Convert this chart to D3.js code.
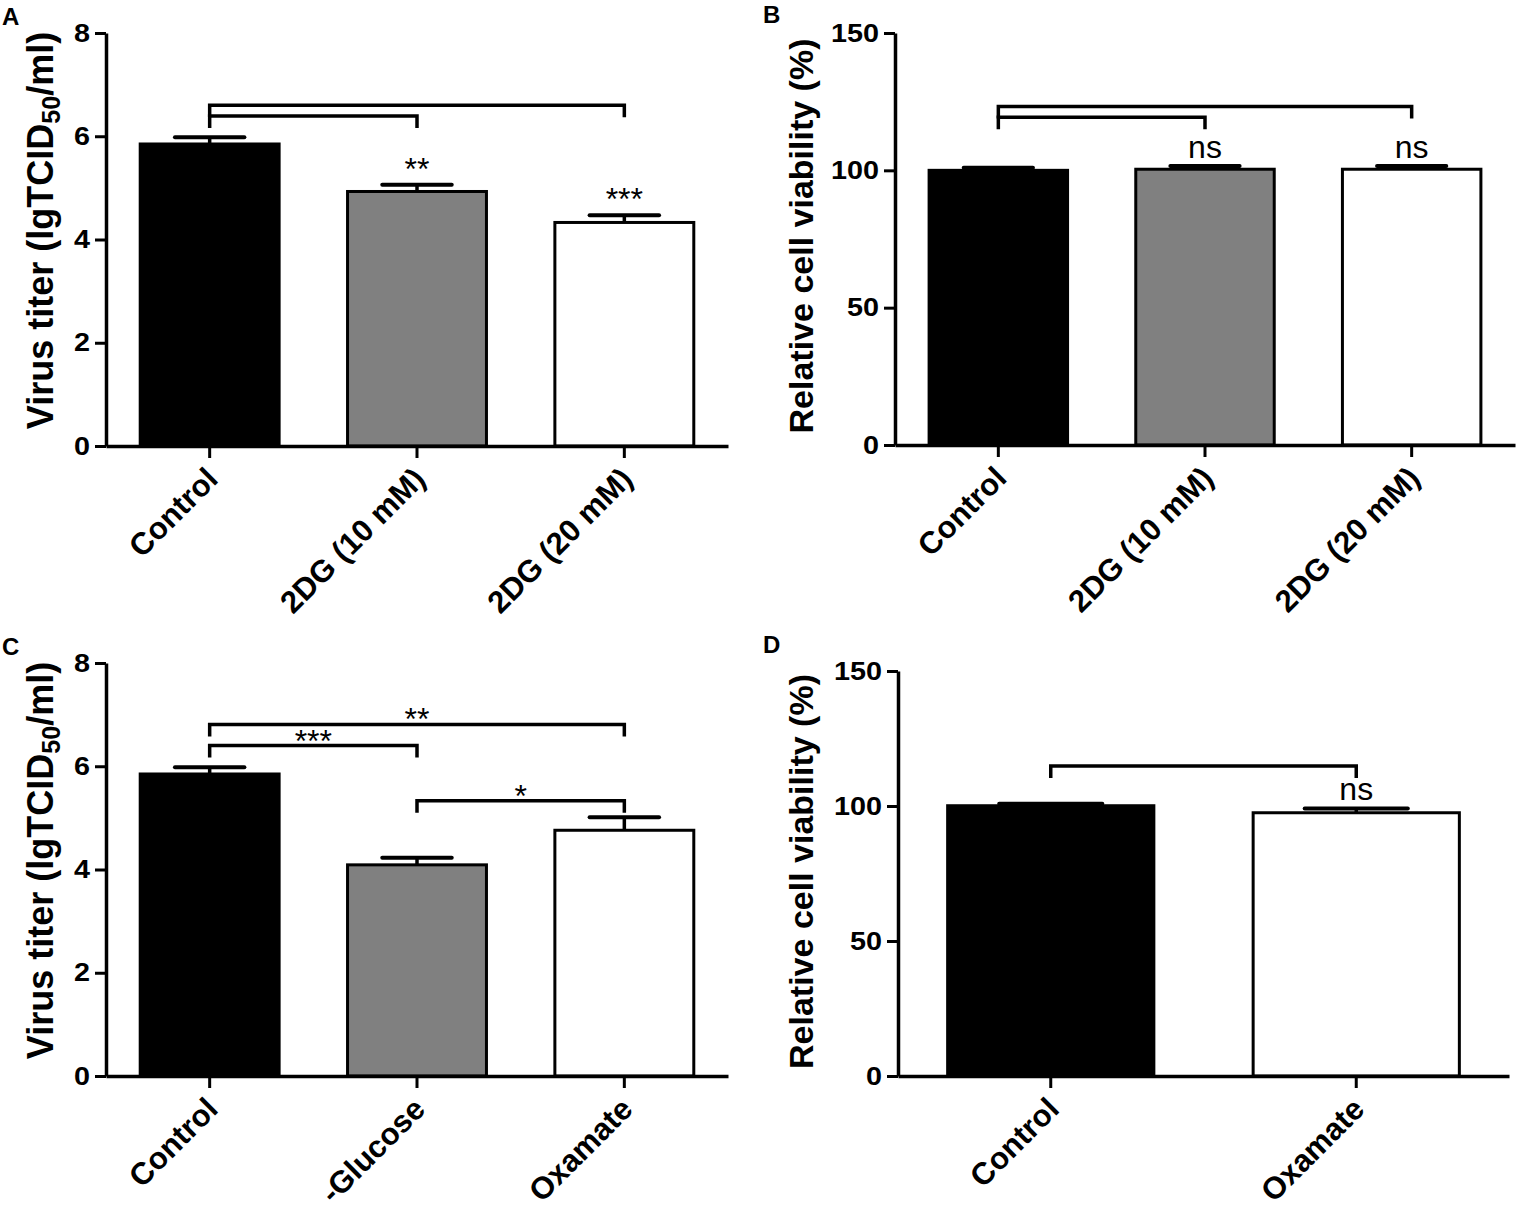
<!DOCTYPE html>
<html><head><meta charset="utf-8">
<script src="https://cdn.jsdelivr.net/npm/d3@7"></script>
<style>body{margin:0;background:#fff}</style>
</head><body><svg id="chart" width="1527" height="1215"></svg>
<script>
// ---------- data ----------
const catsA = ["Control", "2DG (10 mM)", "2DG (20 mM)"];
const meanA = [5.85, 4.93, 4.33];
const semA  = [0.13, 0.13, 0.14];
const markA = ["", "**", "***"];
const brkA  = [[0, 2, 6.6, ""], [0, 1, 6.39, ""]];
const ticksA = [0, 2, 4, 6, 8];

const catsB = ["Control", "2DG (10 mM)", "2DG (20 mM)"];
const meanB = [100, 100.4, 100.4];
const semB  = [0.9, 1.2, 1.2];
const markB = ["", "ns", "ns"];
const brkB  = [[0, 2, 123.2, ""], [0, 1, 119.3, ""]];
const ticksB = [0, 50, 100, 150];

const catsC = ["Control", "-Glucose", "Oxamate"];
const meanC = [5.85, 4.09, 4.76];
const semC  = [0.13, 0.14, 0.25];
const markC = ["", "", ""];
const brkC  = [[0, 2, 6.81, "**"], [0, 1, 6.4, "***"], [1, 2, 5.33, "*"]];
const ticksC = [0, 2, 4, 6, 8];

const catsD = ["Control", "Oxamate"];
const meanD = [100.1, 97.5];
const semD  = [0.7, 1.6];
const markD = ["", "ns"];
const brkD  = [[0, 1, 114.8, ""]];
const ticksD = [0, 50, 100, 150];

const fills = ["#000000", "#808080", "#ffffff"];
const fillsD = ["#000000", "#ffffff"];

// ---------- layout ----------
const svg = d3.select("#chart");
const FONT = "'Liberation Sans',Arial,Helvetica,sans-serif";

function panel(o) {
  const g = svg.append("g");
  const y = d3.scaleLinear().domain([0, o.ticks[o.ticks.length - 1]]).range([o.bottom, o.top]);
  const x = d3.scaleBand().domain(o.cats).range([o.left, o.right])
    .paddingInner(o.pad).paddingOuter(o.pad / 2);
  const bw = x.bandwidth();

  // bars
  g.selectAll("rect.bar").data(o.cats).join("rect")
    .attr("x", d => x(d)).attr("width", bw)
    .attr("y", (d, i) => y(o.mean[i])).attr("height", (d, i) => y(0) - y(o.mean[i]))
    .attr("fill", (d, i) => o.fills[i]).attr("stroke", "#000").attr("stroke-width", 3);

  // error bars (upper)
  o.cats.forEach((c, i) => {
    const cx = x(c) + bw / 2;
    const top = y(o.mean[i] + o.sem[i]);
    g.append("line").attr("x1", cx).attr("x2", cx)
      .attr("y1", y(o.mean[i])).attr("y2", top)
      .attr("stroke", "#000").attr("stroke-width", 3.5);
    g.append("line").attr("x1", cx - bw * 0.25).attr("x2", cx + bw * 0.25)
      .attr("y1", top).attr("y2", top)
      .attr("stroke", "#000").attr("stroke-width", 4).attr("stroke-linecap", "round");
    if (o.mark[i]) {
      const isStar = o.mark[i].indexOf("*") >= 0;
      g.append("text").attr("x", cx).attr("y", top - (isStar ? 5 : 8))
        .attr("text-anchor", "middle").attr("font-family", FONT)
        .attr("font-size", 32).text(o.mark[i]);
    }
  });

  // brackets
  o.brk.forEach(b => {
    const x1 = x(o.cats[b[0]]) + bw / 2, x2 = x(o.cats[b[1]]) + bw / 2;
    const yy = y(b[2]), drop = 12;
    g.append("path").attr("d", `M${x1},${yy + drop}V${yy}H${x2}V${yy + drop}`)
      .attr("fill", "none").attr("stroke", "#000").attr("stroke-width", 3.5);
    if (b[3]) {
      g.append("text").attr("x", (x1 + x2) / 2).attr("y", yy + 6)
        .attr("text-anchor", "middle").attr("font-family", FONT)
        .attr("font-size", 32).text(b[3]);
    }
  });

  // y axis
  const ya = g.append("g").attr("transform", `translate(${o.left},0)`)
    .call(d3.axisLeft(y).tickValues(o.ticks).tickSize(11).tickSizeOuter(0).tickPadding(5));
  ya.select(".domain").attr("stroke-width", 3.5);
  ya.selectAll(".tick line").attr("stroke-width", 3);
  ya.selectAll(".tick text").attr("font-family", FONT).attr("font-weight", "bold")
    .attr("font-size", 25).attr("fill", "#000")
    .attr("x", -16 / 1.15).attr("transform", "scale(1.15,1)");

  // x axis
  const xa = g.append("g").attr("transform", `translate(0,${o.bottom})`)
    .call(d3.axisBottom(x).tickSize(12).tickSizeOuter(0));
  xa.select(".domain").attr("stroke-width", 3.5);
  xa.selectAll(".tick line").attr("stroke-width", 3);
  xa.selectAll(".tick text")
    .attr("font-family", FONT).attr("font-weight", "bold").attr("font-size", 31)
    .attr("fill", "#000").attr("text-anchor", "end")
    .attr("dy", null).attr("y", null)
    .attr("transform", "translate(10,35) rotate(-45)");

  // y title
  const t = g.append("text")
    .attr("transform", `translate(${o.titleX},${(o.top + o.bottom) / 2 + o.titleDy}) rotate(-90)`)
    .attr("text-anchor", "middle").attr("font-family", FONT).attr("font-weight", "bold")
    .attr("font-size", o.titleSize);
  o.title.forEach(p => {
    const ts = t.append("tspan").text(p.t);
    if (p.sub) ts.attr("font-size", o.titleSize * 0.7).attr("dy", 7);
    if (p.after) ts.attr("dy", -7);
  });

  // panel letter
  svg.append("text").attr("x", o.letterX).attr("y", o.letterY)
    .attr("font-family", FONT).attr("font-weight", "bold").attr("font-size", 24).text(o.id);
}

const titleV = [{t: "Virus titer (lgTCID"}, {t: "50", sub: true}, {t: "/ml)", after: true}];
const titleR = [{t: "Relative cell viability (%)"}];

panel({id: "A", cats: catsA, mean: meanA, sem: semA, mark: markA, brk: brkA, ticks: ticksA, fills: fills,
  left: 106, right: 728, top: 33, bottom: 446, pad: 0.33, title: titleV, titleX: 53, titleDy: -9, titleSize: 36, letterX: 2, letterY: 25});
panel({id: "B", cats: catsB, mean: meanB, sem: semB, mark: markB, brk: brkB, ticks: ticksB, fills: fills,
  left: 895, right: 1515, top: 33, bottom: 445, pad: 0.33, title: titleR, titleX: 813, titleDy: -3, titleSize: 34, letterX: 763, letterY: 23});
panel({id: "C", cats: catsC, mean: meanC, sem: semC, mark: markC, brk: brkC, ticks: ticksC, fills: fills,
  left: 106, right: 728, top: 663, bottom: 1076, pad: 0.33, title: titleV, titleX: 53, titleDy: -9, titleSize: 36, letterX: 2, letterY: 655});
panel({id: "D", cats: catsD, mean: meanD, sem: semD, mark: markD, brk: brkD, ticks: ticksD, fills: fillsD,
  left: 898, right: 1509, top: 671, bottom: 1076, pad: 0.325, title: titleR, titleX: 813, titleDy: -2, titleSize: 34, letterX: 763, letterY: 653});
</script>
</body></html>
